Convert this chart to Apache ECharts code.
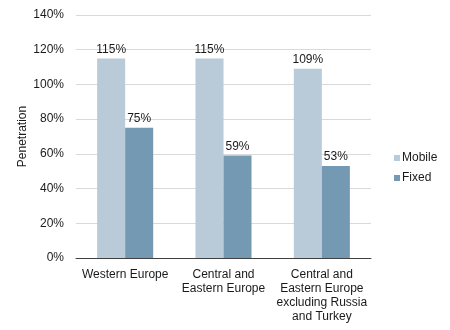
<!DOCTYPE html>
<html>
<head>
<meta charset="utf-8">
<script src="https://cdn.jsdelivr.net/npm/echarts@6/dist/echarts.min.js"></script>
<style>
  html, body { margin: 0; padding: 0; background: #fff; }
  #chart { width: 450px; height: 330px; }
</style>
</head>
<body>
<div id="chart"></div>
<script>
// Mobile and fixed penetration by region (%)
const regions = ['Western Europe', 'Central and\nEastern Europe', 'Central and\nEastern Europe\nexcluding Russia\nand Turkey'];
const mobile = [115, 115, 109];
const fixed = [75, 59, 53];
const yTicks = [0, 20, 40, 60, 80, 100, 120, 140];

const font = 'Liberation Sans, Arial, sans-serif';
const chart = echarts.init(document.getElementById('chart'), null, { renderer: 'canvas' });

const labelStyle = {
  show: true,
  position: 'top',
  distance: 3,
  formatter: p => p.value + '%',
  color: '#1a1a1a',
  fontSize: 12,
  fontFamily: font
};

chart.setOption({
  animation: false,
  textStyle: { fontFamily: font },
  grid: { left: 76, right: 79, top: 15, bottom: 72, containLabel: false },
  legend: {
    orient: 'vertical',
    left: 389,
    top: 147,
    itemWidth: 6,
    itemHeight: 6,
    itemGap: 8,
    icon: 'rect',
    textStyle: { color: '#1a1a1a', fontSize: 12, fontFamily: font, padding: [0, 0, 0, -3] },
    data: ['Mobile', 'Fixed']
  },
  xAxis: {
    type: 'category',
    data: regions,
    axisLine: { lineStyle: { color: '#404040', width: 1 } },
    axisTick: { show: false },
    axisLabel: { color: '#1a1a1a', fontSize: 12, fontFamily: font, lineHeight: 14, margin: 10, interval: 0 }
  },
  yAxis: {
    type: 'value',
    min: yTicks[0],
    max: yTicks[yTicks.length - 1],
    interval: 20,
    name: 'Penetration',
    nameLocation: 'middle',
    nameGap: 47,
    nameMoveOverlap: false,
    nameTextStyle: { color: '#1a1a1a', fontSize: 12, fontFamily: font },
    axisLine: { show: false },
    axisTick: { show: false },
    axisLabel: { color: '#1a1a1a', fontSize: 12, fontFamily: font, margin: 12, formatter: v => v + '%' },
    splitLine: { lineStyle: { color: '#d9d9d9', width: 1 } }
  },
  series: [
    {
      name: 'Mobile',
      type: 'bar',
      data: mobile,
      barWidth: '28.5%',
      barGap: '0%',
      itemStyle: { color: '#b9cad8' },
      label: labelStyle
    },
    {
      name: 'Fixed',
      type: 'bar',
      data: fixed,
      barWidth: '28.5%',
      itemStyle: { color: '#7399b3' },
      label: labelStyle
    }
  ]
});
</script>
</body>
</html>
